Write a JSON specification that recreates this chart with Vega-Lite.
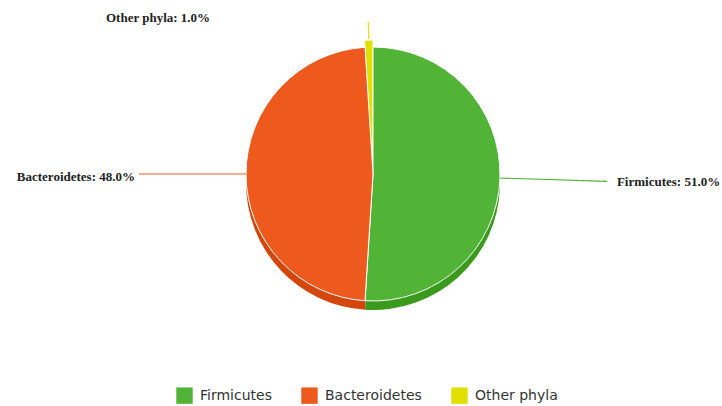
{
  "$schema": "https://vega.github.io/schema/vega-lite/v6.json",
  "width": 698,
  "height": 348,
  "autosize": {"type": "none"},
  "padding": {"left": 24, "top": 0, "right": 0, "bottom": 58},
  "background": "white",
  "config": {"view": {"stroke": null}},
  "data": {"values": [
    {"phylum": "Firmicutes", "value": 51, "order": 1},
    {"phylum": "Bacteroidetes", "value": 48, "order": 2},
    {"phylum": "Other phyla", "value": 1, "order": 3}
  ]},
  "transform": [
    {"window": [{"op": "sum", "field": "value", "as": "cum"}], "sort": [{"field": "order"}], "frame": [null, 0]},
    {"calculate": "datum.cum - datum.value / 2", "as": "mid"},
    {"calculate": "datum.cum - datum.value", "as": "start"},
    {"calculate": "datum.phylum + ': ' + format(datum.value, '.1f') + '%'", "as": "label"}
  ],
  "layer": [
    {
      "transform": [{"filter": "datum.phylum !== 'Other phyla'"}],
      "mark": {"type": "arc", "yOffset": 9, "radius": 127},
      "encoding": {
        "theta": {"field": "start", "type": "quantitative", "stack": null, "scale": {"domain": [0, 100]}},
        "theta2": {"field": "cum"},
        "color": {"field": "phylum", "type": "nominal", "legend": null,
          "scale": {"domain": ["Firmicutes", "Bacteroidetes", "Other phyla"], "range": ["#3a9a1c", "#d4460c", "#b8b800"]}}
      }
    },
    {
      "transform": [{"filter": "datum.phylum === 'Other phyla'"}],
      "mark": {"type": "arc", "yOffset": 1, "radius": 135, "radius2": 8, "stroke": "white", "strokeWidth": 1},
      "encoding": {
        "theta": {"field": "start", "type": "quantitative", "stack": null},
        "theta2": {"field": "cum"},
        "fill": {"field": "phylum", "type": "nominal", "title": null,
          "scale": {"domain": ["Firmicutes", "Bacteroidetes", "Other phyla"], "range": ["#52b436", "#ee5a1e", "#e1e000"]},
          "legend": {"orient": "none", "legendX": 152, "legendY": 387, "direction": "horizontal",
            "symbolType": "square", "symbolSize": 270, "symbolStrokeWidth": 0,
            "labelFont": "DejaVu Sans", "labelFontSize": 14, "labelColor": "#333333",
            "columnPadding": 29, "labelOffset": 7}}
      }
    },
    {
      "transform": [{"filter": "datum.phylum !== 'Other phyla'"}],
      "mark": {"type": "arc", "radius": 127, "stroke": "white", "strokeWidth": 1},
      "encoding": {
        "theta": {"field": "start", "type": "quantitative", "stack": null},
        "theta2": {"field": "cum"},
        "fill": {"field": "phylum", "type": "nominal", "title": null,
          "scale": {"domain": ["Firmicutes", "Bacteroidetes", "Other phyla"], "range": ["#52b436", "#ee5a1e", "#e1e000"]}}
      }
    },
    {
      "transform": [{"filter": "datum.phylum !== 'Other phyla'"}],
      "mark": {"type": "arc", "strokeWidth": 1.2, "radius": 234, "radius2": 127},
      "encoding": {
        "theta": {"field": "mid", "type": "quantitative", "stack": null},
        "theta2": {"field": "mid"},
        "stroke": {"field": "phylum", "type": "nominal", "legend": null,
          "scale": {"domain": ["Firmicutes", "Bacteroidetes", "Other phyla"], "range": ["#52b436", "#ee5a1e", "#e1e000"]}}
      }
    },
    {
      "transform": [{"filter": "datum.phylum === 'Other phyla'"}],
      "mark": {"type": "arc", "strokeWidth": 1.2, "radius": 152, "radius2": 135, "stroke": "#e1e000"},
      "encoding": {
        "theta": {"field": "mid", "type": "quantitative", "stack": null},
        "theta2": {"field": "mid"}
      }
    },
    {
      "transform": [{"filter": "datum.phylum === 'Firmicutes'"}],
      "mark": {"type": "text", "radius": 244, "align": "left", "baseline": "middle", "font": "Liberation Serif", "fontWeight": "bold", "fontSize": 13, "color": "#222222"},
      "encoding": {
        "theta": {"field": "mid", "type": "quantitative", "stack": null},
        "text": {"field": "label"}
      }
    },
    {
      "transform": [{"filter": "datum.phylum === 'Bacteroidetes'"}],
      "mark": {"type": "text", "radius": 238, "align": "right", "baseline": "middle", "dy": 3, "font": "Liberation Serif", "fontWeight": "bold", "fontSize": 13, "color": "#222222"},
      "encoding": {
        "theta": {"field": "mid", "type": "quantitative", "stack": null},
        "text": {"field": "label"}
      }
    },
    {
      "transform": [{"filter": "datum.phylum === 'Other phyla'"}],
      "mark": {"type": "text", "radius": 156, "align": "right", "baseline": "middle", "dx": -158, "font": "Liberation Serif", "fontWeight": "bold", "fontSize": 13, "color": "#222222"},
      "encoding": {
        "theta": {"field": "mid", "type": "quantitative", "stack": null},
        "text": {"field": "label"}
      }
    }
  ],
  "resolve": {"scale": {"color": "independent", "fill": "independent", "stroke": "independent"}}
}
